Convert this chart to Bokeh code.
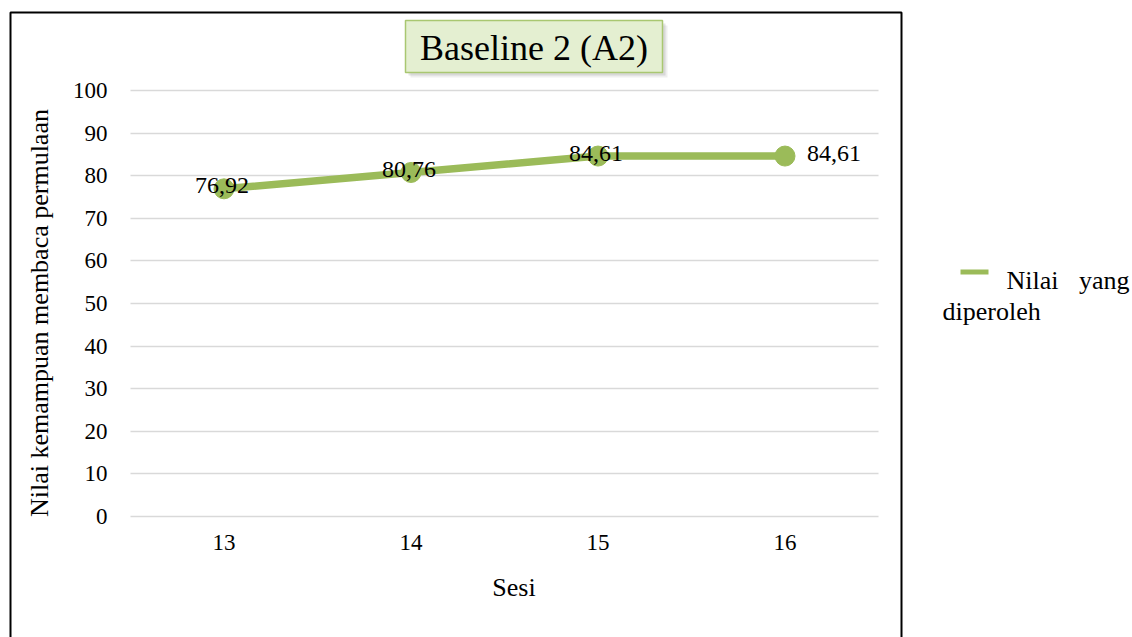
from bokeh.plotting import figure
from bokeh.models import Range1d, FixedTicker, BoxAnnotation, Label
from bokeh.core.properties import value
from bokeh.embed import file_html
from bokeh.resources import INLINE

# Data
sessions = [13, 14, 15, 16]
scores = [76.92, 80.76, 84.61, 84.61]
y_ticks = list(range(0, 101, 10))
series_name = "Nilai yang diperoleh"
title_text = "Baseline 2 (A2)"
x_title = "Sesi"
y_title = "Nilai kemampuan membaca permulaan"

GREEN = "#9bbb59"
FONT = "Liberation Serif"

# Page size and where the plotting area sits on it (pixels)
W, H = 1132, 637
PLOT_L, PLOT_R = 130, 878      # x = 12.5 .. 16.5
PLOT_T, PLOT_B = 90, 516       # y = 100 .. 0
XA, XB = 12.5, 16.5
YA, YB = 0, 100
px_x = (PLOT_R - PLOT_L) / (XB - XA)
px_y = (PLOT_B - PLOT_T) / (YB - YA)

# The frame spans the whole page so the border, title box and legend can live in it
x_range = Range1d(XA - PLOT_L / px_x, XB + (W - PLOT_R) / px_x)
y_range = Range1d(YA - (H - PLOT_B) / px_y, YB + PLOT_T / px_y)

p = figure(
    width=W, height=H,
    output_backend="svg", toolbar_location=None,
    x_range=x_range, y_range=y_range,
    min_border=0,
)
p.outline_line_color = None
p.background_fill_color = "white"
p.border_fill_color = "white"

# Axes pinned to the plotting area
p.xaxis.fixed_location = YA
p.yaxis.fixed_location = XA
p.xaxis.bounds = (XA, 16.6)
p.yaxis.bounds = (-5, 100.5)
p.xaxis.ticker = FixedTicker(ticks=sessions)
p.yaxis.ticker = FixedTicker(ticks=y_ticks)
for ax in (p.xaxis, p.yaxis):
    ax.axis_line_color = None
    ax.major_tick_line_color = None
    ax.minor_tick_line_color = None
    ax.major_label_text_font = FONT
    ax.major_label_text_font_size = "23px"
    ax.major_label_text_color = "black"
    ax.axis_label_text_font = FONT
    ax.axis_label_text_font_size = "26px"
    ax.axis_label_text_font_style = "normal"
    ax.axis_label_text_color = "black"
p.xaxis.axis_label = x_title
p.yaxis.axis_label = y_title
p.xaxis.major_label_standoff = 12
p.xaxis.axis_label_standoff = 20
p.yaxis.major_label_standoff = 17
p.yaxis.axis_label_standoff = 16

p.xgrid.visible = False
p.ygrid.grid_line_color = "#d9d9d9"
p.ygrid.grid_line_width = 1.5
p.ygrid.cross_bounds = (XA, XB)

# Series
p.line(sessions, scores, line_color=GREEN, line_width=7.5)
p.scatter(sessions, scores, size=20, fill_color=GREEN, line_color=GREEN)

# Data labels
labels = [f"{v:.2f}".replace(".", ",") for v in scores]
p.text(x=sessions[:3], y=scores[:3], text=labels[:3],
       text_align="center", text_baseline="middle", x_offset=-2, y_offset=-3,
       text_font=value(FONT), text_font_size="24px", text_color="black")
p.text(x=sessions[3:], y=scores[3:], text=labels[3:],
       text_align="left", text_baseline="middle", x_offset=22, y_offset=-3,
       text_font=value(FONT), text_font_size="24px", text_color="black")


def box(l, t, r, b, **kw):
    p.add_layout(BoxAnnotation(left=l, right=r, top=t, bottom=b,
                               left_units="canvas", right_units="canvas",
                               top_units="canvas", bottom_units="canvas", **kw))


def label(x, y, text, **kw):
    p.add_layout(Label(x=x, y=y, x_units="canvas", y_units="canvas", text=text,
                       text_font=FONT, text_color="black", **kw))


# Outer chart border (bottom edge runs off the page)
box(10, 12, 901, 700, fill_color=None, fill_alpha=0,
    line_color="black", line_alpha=1.0, line_width=2)

# Title box with soft shadow
for off, alpha in ((5, 0.12), (3, 0.2)):
    box(405 + off, 20 + off, 662 + off, 72 + off,
        fill_color="#7f7f7f", fill_alpha=alpha, line_color=None)
box(405, 20, 662, 72, fill_color="#e4efd1", fill_alpha=1.0,
    line_color="#a9c771", line_alpha=1.0, line_width=1.5)
label(533.5, 47, title_text, text_align="center", text_baseline="middle",
      text_font_size="36px")

# Legend, wrapped over two lines
words = series_name.split()
box(960, 269, 988, 274, fill_color=GREEN, fill_alpha=1.0, line_color=None)
label(1006, 280, words[0], text_align="left", text_baseline="alphabetic", text_font_size="26px")
label(1129, 280, words[1], text_align="right", text_baseline="alphabetic", text_font_size="26px")
label(942, 311, " ".join(words[2:]), text_align="left", text_baseline="alphabetic",
      text_font_size="26px")

open("out.html", "w").write(file_html(p, INLINE))
